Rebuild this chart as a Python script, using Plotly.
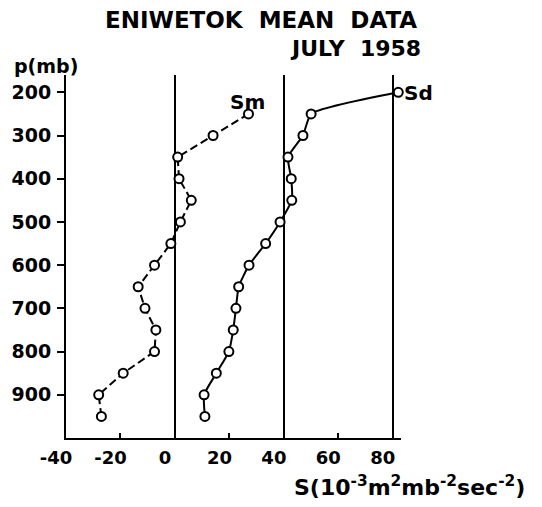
import plotly.graph_objects as go

# Pressure levels (mb) and values
sm_p = [250, 300, 350, 400, 450, 500, 550, 600, 650, 700, 750, 800, 850, 900, 950]
sm_vals = [27, 14, 1, 1.5, 6, 2, -1.5, -7.5, -13.5, -11, -7, -7.5, -19, -28, -27]

sd_p = [200, 250, 300, 350, 400, 450, 500, 550, 600, 650, 700, 750, 800, 850, 900, 950]
sd_vals = [82, 50, 47, 41.5, 42.7, 42.9, 38.6, 33.3, 27.2, 23.4, 22.4, 21.4, 19.8, 15.2, 10.7, 11]

x_ticks = [-40, -20, 0, 20, 40, 60, 80]
x_rules = [-40, 0, 40, 80]
p_ticks = [200, 300, 400, 500, 600, 700, 800, 900]

FONT = "DejaVu Sans"

fig = go.Figure()
fig.add_trace(go.Scatter(
    x=sm_vals, y=sm_p, mode="lines+markers", name="Sm",
    line=dict(color="black", width=2, dash="8px,4px"),
    marker=dict(symbol="circle", size=9, color="white", line=dict(color="black", width=2)),
    xaxis="x", yaxis="y", showlegend=False, cliponaxis=False,
))
fig.add_trace(go.Scatter(
    x=sd_vals, y=sd_p, mode="lines+markers", name="Sd",
    line=dict(color="black", width=2, shape="spline", smoothing=0.5),
    marker=dict(symbol="circle", size=9, color="white", line=dict(color="black", width=2)),
    xaxis="x2", yaxis="y", showlegend=False, cliponaxis=False,
))

tickfont = dict(family=FONT, size=18, color="black", weight="bold")

# plot area in the photographed page: x 66..400.8, y 75..438
def px(ax):
    return (ax - 66) / 334.8

def py(ay):
    return (438 - ay) / 363

def label(text, x, y, size):
    return dict(text=text, xref="paper", yref="paper", x=px(x), y=py(y),
                xanchor="center", yanchor="middle", showarrow=False,
                font=dict(family=FONT, size=size, color="black", weight="bold"))

fig.update_layout(
    width=534, height=499,
    margin=dict(l=58, r=141, t=67, b=69, autoexpand=False),
    paper_bgcolor="white", plot_bgcolor="white",
    xaxis=dict(
        range=[-40, 83], tickmode="array", tickvals=x_ticks,
        ticktext=[str(v) for v in x_ticks],
        showgrid=False, zeroline=False,
        showline=True, linecolor="black", linewidth=2,
        ticks="inside", ticklen=5, tickwidth=2, tickcolor="black",
        tickfont=tickfont, ticklabelshift=-10, ticklabelstandoff=2,
    ),
    xaxis2=dict(
        range=[-40, 83], overlaying="x", matches="x",
        tickmode="array", tickvals=x_rules,
        showgrid=True, gridcolor="black", gridwidth=2,
        showticklabels=False, ticks="", zeroline=False, showline=False,
    ),
    yaxis=dict(
        range=[1000, 160], tickmode="array", tickvals=p_ticks,
        ticktext=[str(v) for v in p_ticks],
        showgrid=False, zeroline=False,
        showline=True, linecolor="black", linewidth=2,
        ticks="outside", ticklen=7, tickwidth=2, tickcolor="black",
        tickfont=dict(family=FONT, size=19, color="black", weight="bold"),
        ticklabelstandoff=2,
    ),
    annotations=[
        label("ENIWETOK  MEAN  DATA", 261, 20, 23),
        label("JULY  1958", 355, 49, 22),
        label("p(mb)", 46, 66, 19),
        label("S(10<sup>-3</sup>m<sup>2</sup>mb<sup>-2</sup>sec<sup>-2</sup>)", 409, 486, 22),
        dict(text="Sm", x=sm_vals[0], y=sm_p[0], xref="x", yref="y",
             showarrow=False, xshift=-1, yshift=12,
             font=dict(family=FONT, size=20, color="black", weight="bold")),
        dict(text="Sd", x=sd_vals[0], y=sd_p[0], xref="x", yref="y",
             showarrow=False, xshift=20, yshift=-1,
             font=dict(family=FONT, size=20, color="black", weight="bold")),
    ],
)

fig.write_html("out.html")
